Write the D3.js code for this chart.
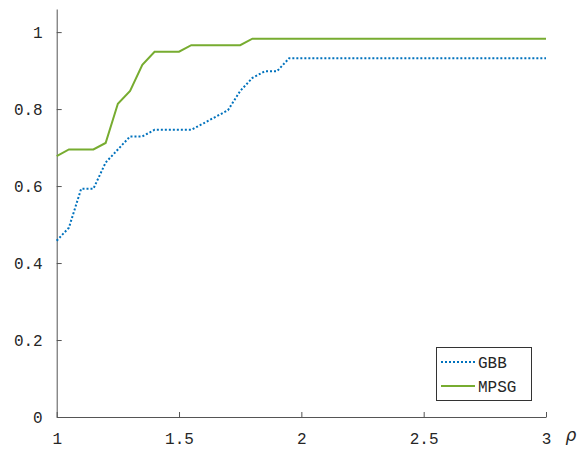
<!DOCTYPE html>
<html>
<head>
<meta charset="utf-8">
<script src="https://d3js.org/d3.v7.min.js"></script>
<style>
body { margin: 0; background: white; }
.tick text { font-family: "Liberation Mono", monospace; font-size: 16px; fill: #262626; }
.leg { font-family: "Liberation Mono", monospace; font-size: 16px; fill: #262626; }
</style>
</head>
<body>
<svg id="chart" width="580" height="449"></svg>
<script>

// rho values, step 0.05 from 1 to 3
var rho = d3.range(0, 41).map(function(i){ return +(1 + i * 0.05).toFixed(2); });

var gbbHead = [0.458, 0.492, 0.593, 0.593, 0.661, 0.695, 0.729, 0.729, 0.746, 0.746,
               0.746, 0.746, 0.763, 0.780, 0.797, 0.847, 0.881, 0.898, 0.898, 0.932];
var mpsgHead = [0.678, 0.695, 0.695, 0.695, 0.712, 0.814, 0.847, 0.915, 0.949, 0.949,
                0.949, 0.966, 0.966, 0.966, 0.966, 0.966, 0.983];

var gbb = rho.map(function(r, i){ return i < gbbHead.length ? gbbHead[i] : 0.932; });
var mpsg = rho.map(function(r, i){ return i < mpsgHead.length ? mpsgHead[i] : 0.983; });

var xTicks = [1, 1.5, 2, 2.5, 3];
var yTicks = [0, 0.2, 0.4, 0.6, 0.8, 1];
var seriesNames = ["GBB", "MPSG"];

var svg = d3.select("#chart");

var x = d3.scaleLinear().domain([1, 3]).range([56.7, 546]);
var y = d3.scaleLinear().domain([0, 1.06]).range([417, 9]);

var axisColor = "#555";

var xAxis = svg.append("g")
    .attr("transform", "translate(0,417)")
    .call(d3.axisBottom(x).tickValues(xTicks).tickSizeInner(-5).tickSizeOuter(0).tickPadding(16)
      .tickFormat(function(d){ return d; }));
xAxis.select(".domain").attr("stroke", axisColor);
xAxis.selectAll(".tick line").attr("stroke", axisColor);

var yAxis = svg.append("g")
    .attr("transform", "translate(56.7,0)")
    .call(d3.axisLeft(y).tickValues(yTicks).tickSizeInner(-5).tickSizeOuter(0).tickPadding(14)
      .tickFormat(function(d){ return d; }));
yAxis.select(".domain").attr("stroke", axisColor);
yAxis.selectAll(".tick line").attr("stroke", axisColor);
yAxis.selectAll(".tick text").attr("dy", "0.35em");

svg.append("text")
    .attr("x", 571).attr("y", 441)
    .attr("text-anchor", "middle")
    .style("font-family", "'DejaVu Sans', sans-serif")
    .style("font-style", "italic")
    .style("font-size", "17px")
    .attr("fill", "#262626")
    .text("ρ");

var line = d3.line()
    .x(function(d){ return x(d[0]); })
    .y(function(d){ return y(d[1]); });

svg.append("path")
    .datum(rho.map(function(r, i){ return [r, gbb[i]]; }))
    .attr("fill", "none")
    .attr("stroke", "#0072BD")
    .attr("stroke-width", 2)
    .attr("stroke-dasharray", "2,2")
    .attr("d", line);

svg.append("path")
    .datum(rho.map(function(r, i){ return [r, mpsg[i]]; }))
    .attr("fill", "none")
    .attr("stroke", "#77AC30")
    .attr("stroke-width", 2)
    .attr("d", line);

// legend
var legend = svg.append("g");
legend.append("rect")
    .attr("x", 436.5).attr("y", 347.5).attr("width", 95).attr("height", 53)
    .attr("fill", "white").attr("stroke", "#333").attr("stroke-width", 1);

var legColors = ["#0072BD", "#77AC30"];
var legDash = ["2,2", null];
seriesNames.forEach(function(n, i){
  var ly = 362 + i * 24;
  legend.append("line")
    .attr("x1", 441).attr("x2", 475).attr("y1", ly).attr("y2", ly)
    .attr("stroke", legColors[i]).attr("stroke-width", 2)
    .attr("stroke-dasharray", legDash[i]);
  legend.append("text")
    .attr("class", "leg")
    .attr("x", 478).attr("y", ly).attr("dy", "0.35em")
    .text(n);
});

</script>
</body>
</html>
